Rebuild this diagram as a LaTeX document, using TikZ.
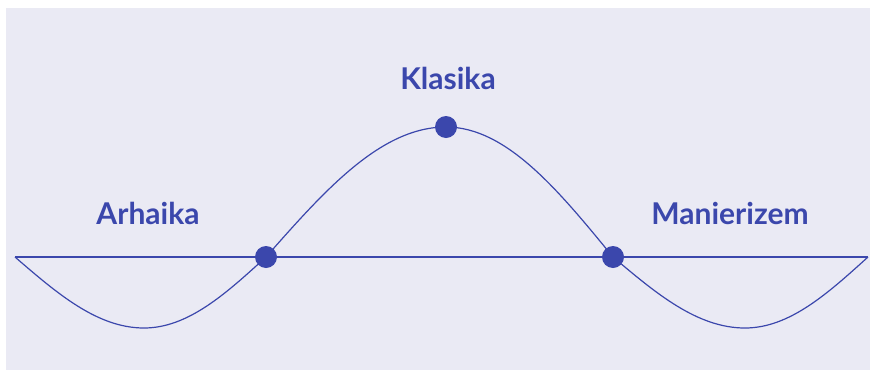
\documentclass[tikz,border=0pt]{standalone}
\usepackage{fontspec}
\setmainfont{Lato}[BoldFont={Lato Bold}]
\usetikzlibrary{positioning, backgrounds}
\definecolor{cwave}{HTML}{3B47AC}
\definecolor{cback}{HTML}{EAEAF4}
\tikzset{
  every picture/.style={font=\bfseries, line width=1.3pt},
  dot/.style={circle, fill=cwave, inner sep=0pt, minimum size=22pt},
  era/.style={font=\fontsize{30}{33}\selectfont\bfseries, text=cwave, anchor=base, inner sep=0pt},
  wave/.style={draw=cwave, line width=1.2pt},
}

\begin{document}
\begin{tikzpicture}[x=1pt, y=-1pt]
  \useasboundingbox (0,0) rectangle (870,370);
  % axis ends and turning points
  \coordinate (start) at (15,257);
  \coordinate (end) at (868,257);
  \coordinate (lowL) at (144,328);
  \coordinate (lowR) at (745,328);
  \node[dot] (arh) at (266,257) {};
  \node[dot] (kla) at (446,127) {};
  \node[dot] (man) at (613,257) {};
  \begin{scope}[on background layer]
    \fill[cback] (6,8) rectangle (870,370);
    \draw[wave] (start) -- (end);
    \draw[wave] (start) sin (lowL) cos (arh.center) sin (kla.center) cos (man.center) sin (lowR) cos (end);
  \end{scope}
  \node[era] (tArh) at (148,224) {Arhaika};
  \node[era] (tKla) at (448,89) {Klasika};
  \node[era] (tMan) at (730,224) {Manierizem};
\end{tikzpicture}
\end{document}
